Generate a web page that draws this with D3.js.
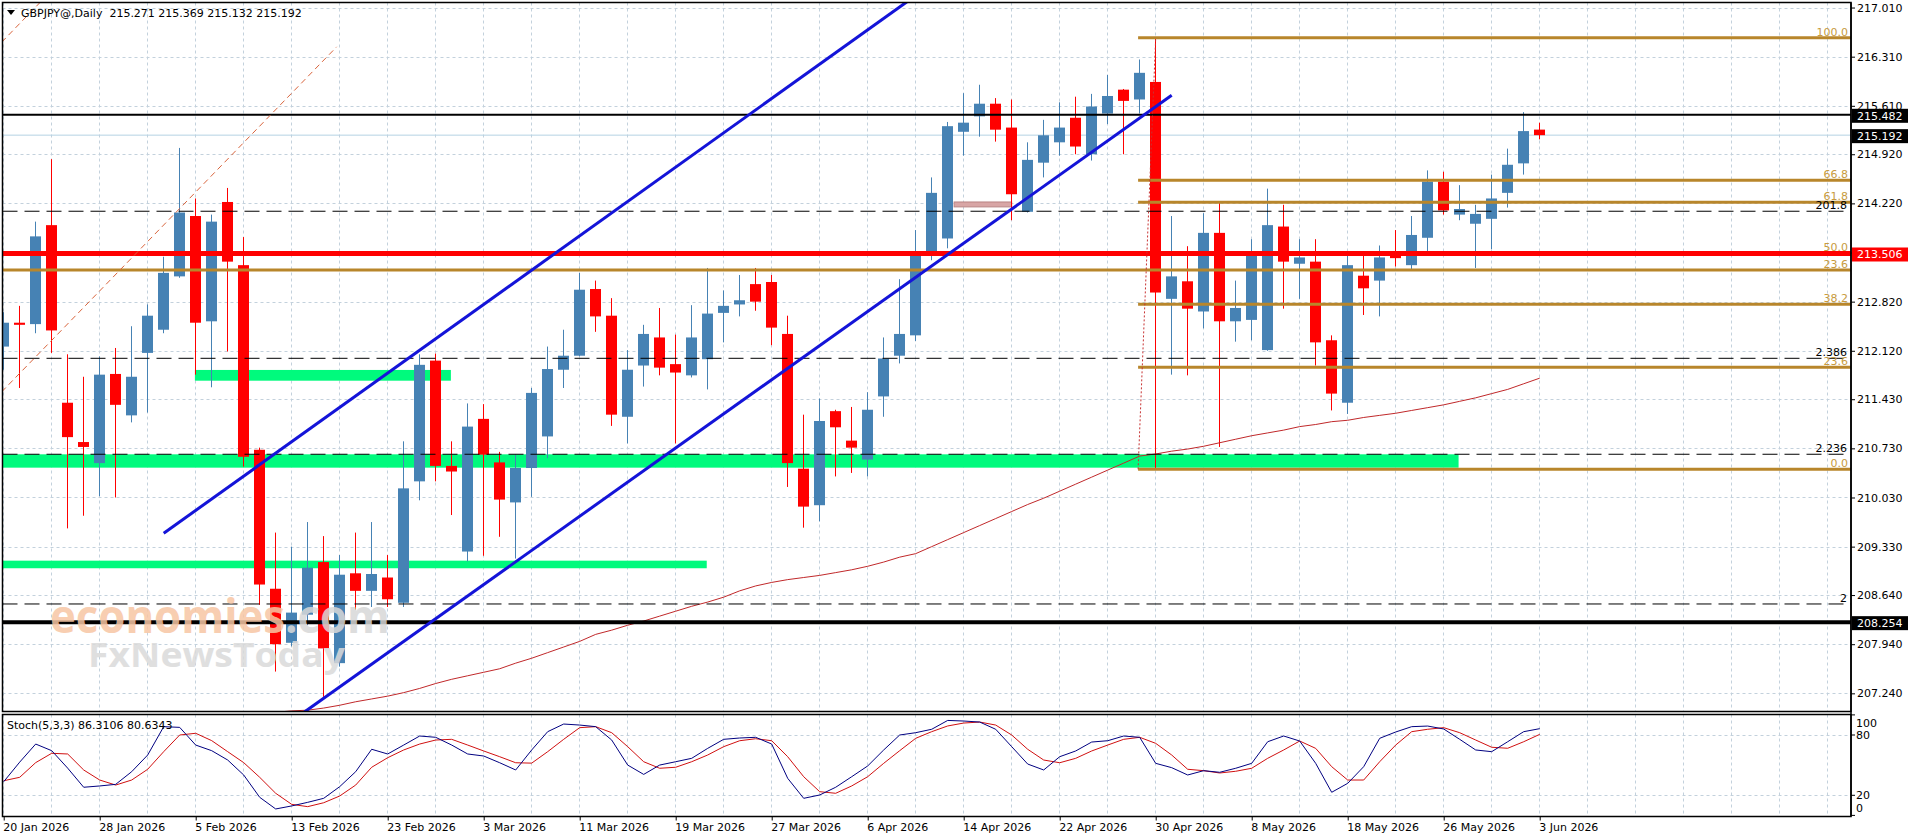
<!DOCTYPE html>
<html>
<head>
<meta charset="utf-8">
<script src="https://cdn.jsdelivr.net/npm/d3@7"></script>
<style>
  body { margin: 0; background: #fff; }
  svg { display: block; font-family: "DejaVu Sans", sans-serif; }
</style>
</head>
<body>
<svg id="chart" width="1916" height="840"></svg>
<script>
// ---- data ----
const symbolTitle = "GBPJPY@,Daily";
const lastQuote = [215.271, 215.369, 215.132, 215.192];

const opens = [212.18,212.52,212.50,213.91,211.38,210.82,210.52,211.79,211.20,212.09,
  212.42,213.18,214.04,212.54,214.24,213.34,210.71,208.73,207.96,208.36,
  209.11,207.67,208.95,208.70,208.89,208.53,210.26,211.98,210.48,209.26,
  211.15,210.53,209.96,210.45,210.90,211.85,212.05,213.00,212.62,211.18,
  211.91,212.31,211.93,211.77,212.00,212.66,212.78,213.07,213.10,212.36,
  210.44,209.92,211.26,210.84,210.57,211.47,212.05,212.34,213.54,213.72,
  215.24,215.46,215.64,215.30,214.10,214.80,215.09,215.44,214.92,215.50,
  215.84,215.70,215.95,212.86,213.11,212.68,213.80,212.54,212.56,212.13,
  213.89,213.36,213.39,212.27,211.38,213.19,213.12,213.51,213.34,213.73,
  214.53,214.06,213.93,214.00,214.37,214.79,215.271];
const highs = [212.67,212.76,213.96,214.85,212.07,211.75,212.04,212.16,212.47,212.78,
  213.46,215.01,214.29,214.06,214.44,213.74,210.74,209.53,209.33,209.68,
  209.48,209.21,209.53,209.68,209.21,210.83,212.07,212.08,210.83,211.37,
  211.36,210.68,210.64,211.59,212.18,212.42,213.23,213.12,212.87,212.13,
  212.49,212.73,212.35,212.77,213.30,212.98,213.20,213.30,213.20,212.62,
  211.21,211.44,211.28,211.32,211.53,212.31,213.14,213.84,214.59,215.38,
  215.79,215.91,215.72,215.70,215.09,215.41,215.66,215.74,215.78,216.05,
  215.85,216.27,216.58,214.04,213.61,214.08,214.24,213.12,213.71,214.43,
  214.20,213.71,213.71,212.34,213.49,213.49,213.62,213.84,214.04,214.69,
  214.67,214.48,214.20,214.63,215.00,215.52,215.369];
const lows = [211.85,211.59,212.37,212.09,209.59,209.77,210.05,210.03,211.10,211.24,
  212.37,213.16,211.78,211.60,212.11,210.47,208.50,207.55,207.91,208.21,
  207.19,207.62,208.43,208.47,208.47,208.47,209.99,210.26,209.78,209.12,
  209.20,209.47,209.16,210.04,210.59,211.59,212.04,212.39,211.05,210.80,
  211.61,211.77,210.80,211.74,211.57,212.24,212.61,212.69,212.20,210.18,
  209.60,209.69,210.33,210.38,210.33,211.18,211.94,212.26,213.41,213.58,
  214.90,215.17,215.10,213.98,214.09,214.59,214.90,214.92,214.83,215.35,
  214.92,215.50,210.43,211.78,211.77,212.44,210.75,212.25,212.27,212.12,
  212.72,212.86,211.91,211.27,211.22,212.63,212.61,213.32,213.28,213.53,
  214.06,213.98,213.30,213.57,214.16,214.63,215.132];
const closes = [212.52,212.49,213.75,212.41,210.89,210.75,211.78,211.35,211.75,212.62,
  213.23,214.09,212.52,213.96,213.39,210.61,208.79,207.94,208.39,209.03,
  207.88,208.93,208.70,208.94,208.58,210.16,211.92,210.48,210.40,211.04,
  210.64,210.00,210.45,211.52,211.86,212.05,212.99,212.61,211.21,211.85,
  212.36,211.88,211.81,212.31,212.65,212.76,212.84,212.82,212.45,210.52,
  209.90,211.12,211.03,210.74,211.28,212.01,212.36,213.49,214.37,215.32,
  215.37,215.64,215.27,214.35,214.84,215.19,215.30,215.03,215.60,215.75,
  215.68,216.08,212.95,213.18,212.72,213.80,212.54,212.73,213.49,213.91,
  213.39,213.45,212.24,211.51,213.34,213.01,213.45,213.44,213.77,214.53,
  214.12,214.14,214.07,214.29,214.77,215.25,215.192];

// moving average, first value belongs to bar 14
const maStart = 14;
const maValues = [206.94,206.95,206.97,206.97,206.99,207.00,207.03,207.07,207.12,207.16,
  207.20,207.25,207.31,207.38,207.44,207.49,207.54,207.59,207.67,207.74,
  207.82,207.90,207.98,208.08,208.14,208.21,208.27,208.34,208.41,208.48,
  208.54,208.61,208.70,208.77,208.82,208.86,208.89,208.92,208.96,209.00,
  209.05,209.11,209.18,209.23,209.33,209.43,209.53,209.63,209.73,209.83,
  209.93,210.02,210.12,210.22,210.32,210.42,210.52,210.62,210.65,210.69,
  210.72,210.76,210.81,210.86,210.91,210.95,210.99,211.04,211.07,211.11,
  211.13,211.17,211.20,211.23,211.27,211.31,211.35,211.40,211.45,211.51,
  211.57,211.65,211.73];

const stochK = [33.5,53,71,64.4,47,28,29.3,30.9,43.5,60.1,
  88.3,87.6,70,64.4,55.1,40.2,18,6.4,9.4,13,
  17,28.6,43.5,65.8,61.1,70,79,77.7,70,61.1,
  59.1,52.4,45.2,65.1,83.3,90.9,89.9,88.3,75,50.1,
  40.8,50.1,53.4,56.8,66.7,75.7,77,77.7,71,36.9,
  17,20.3,28,38.5,49.2,65.1,80,82.3,85.7,94.5,
  93.9,92.9,85.7,68.4,51.1,45.2,58.4,64.1,73,74.3,
  79,77.7,51.8,47.5,40.2,44.5,42.9,46.9,51.8,73.3,
  79,74,51.8,23,31.9,48.5,76.7,83,88.3,88.9,
  86,75.7,65.1,63.4,73.3,83.3,86.31];
const stochD = [34.5,37.9,52.5,61.8,61.1,45.2,35.2,30.2,35.2,45.9,
  63.4,80,81.7,74.4,63.4,52.5,37.9,22,11,8.7,
  12.6,19.3,30.2,47.9,57.4,65.1,71,75,75.7,70,
  64.1,58.4,52.4,52,63.4,75.7,87.3,88.3,82.3,68.4,
  53.4,46.9,47.9,53.4,60.1,68.4,74.3,76.3,74.3,58.4,
  38.5,23.6,22,29.3,38.5,51.8,64.4,76.7,83.3,89,
  91.9,92.9,89.9,80,65.8,55.1,52.4,56.8,64.1,70,
  75.7,77.7,71.7,60.1,45.9,44.5,42.2,43.9,46.9,56.8,
  65.1,74,66.7,48.5,35.2,35.2,53.4,70,83.3,85.7,
  87.3,82.3,75,67.8,66.8,73.3,80.63];
const stochTitle = "Stoch(5,3,3) 86.3106 80.6343";

// one date label every 6 bars
const dateLabels = ["20 Jan 2026","28 Jan 2026","5 Feb 2026","13 Feb 2026","23 Feb 2026",
  "3 Mar 2026","11 Mar 2026","19 Mar 2026","27 Mar 2026","6 Apr 2026","14 Apr 2026",
  "22 Apr 2026","30 Apr 2026","8 May 2026","18 May 2026","26 May 2026","3 Jun 2026"];
const priceTicks = [217.010,216.310,215.610,214.920,214.220,213.520,212.820,212.120,
  211.430,210.730,210.030,209.330,208.640,207.940,207.240];
const stochTicks = [100, 80, 20, 0];

// drawn objects
const bidPrice = 215.192;
const upperLevel = 215.482;
const keyLevel = 213.506;
const lowerLevel = 208.254;
const dashedLevels = [214.108, 212.013, 210.646, 208.513];
const dashedLabels = ["201.8", "2.386", "2.236", "2"];
const fibStartBar = 70.9;
const fibLevels = [216.581, 214.549, 214.236, 213.509, 212.783, 211.885, 210.432];
const fibLabels = ["100.0", "66.8", "61.8", "50.0", "38.2", "23.6", "0.0"];
const oldFibLevel = 213.271, oldFibLabel = "23.6";
const greenZones = [
  {from: -2, to: 90.93, top: 210.645, bottom: 210.455},
  {from: 11.95, to: 27.95, top: 211.847, bottom: 211.694},
  {from: -2, to: 43.94, top: 209.130, bottom: 209.022}
];
const pinkZone = {from: 59.4, to: 63, top: 214.24, bottom: 214.17};
const channelUpper = [[10, 209.52], [56.5, 217.10]];
const channelLower = [[18.77, 206.97], [73, 215.76]];
const oldChannelA = [[-1, 211.33], [20.81, 216.45]];
const oldChannelB = [[-1, 216.31], [2.6, 217.16]];
const fibBase = [[fibStartBar, 210.432], [72, 216.581]];

// ---- layout ----
const axisX = 1851;
const mainTop = 2.5, mainBottom = 711.5, leftX = 2.5;
const stTop = 714.5, stBottom = 816.5;

const x = d3.scaleLinear([0, 96], [3.7, 1539.7]);
const y = d3.scaleLinear([206.974, 217.089], [712, 2]);
const ys = d3.scaleLinear([0, 100], [815.4, 714.9]);

const bull = "#4682B4", bear = "#FF0000";
const gridColor = "#C3D1DC";
const gold = "#B8862B";
const fmt = d3.format(".3f");

const svg = d3.select("#chart");
svg.append("rect").attr("width", 1916).attr("height", 840).attr("fill", "#fff");

const defs = svg.append("defs");
defs.append("clipPath").attr("id", "mainClip")
  .append("rect").attr("x", leftX).attr("y", mainTop)
  .attr("width", axisX - leftX).attr("height", mainBottom - mainTop);
defs.append("clipPath").attr("id", "stClip")
  .append("rect").attr("x", leftX).attr("y", stTop)
  .attr("width", axisX - leftX).attr("height", stBottom - stTop);

// grid
const gridBars = d3.range(0, 115, 3);
const grid = svg.append("g").attr("stroke", gridColor).attr("stroke-dasharray", "3,3").attr("stroke-width", 1);
gridBars.forEach(b => {
  const gx = Math.floor(x(b)) + 0.5;
  grid.append("line").attr("x1", gx).attr("x2", gx).attr("y1", mainTop).attr("y2", mainBottom);
  grid.append("line").attr("x1", gx).attr("x2", gx).attr("y1", stTop).attr("y2", stBottom);
});
priceTicks.forEach(p => {
  const gy = Math.round(y(p)) + 0.5;
  grid.append("line").attr("x1", leftX).attr("x2", axisX).attr("y1", gy).attr("y2", gy);
});
[80, 20].forEach(v => {
  const gy = Math.round(ys(v)) + 0.5;
  grid.append("line").attr("x1", leftX).attr("x2", axisX).attr("y1", gy).attr("y2", gy);
});

const main = svg.append("g").attr("clip-path", "url(#mainClip)");

// background rectangles
main.selectAll(".zone")
  .data(greenZones)
  .enter()
  .append("rect")
  .attr("class", "zone")
  .attr("x", d => x(d.from))
  .attr("width", d => x(d.to) - x(d.from))
  .attr("y", d => y(d.top))
  .attr("height", d => y(d.bottom) - y(d.top))
  .attr("fill", "#00FA7D");

main.append("rect")
  .attr("x", x(pinkZone.from)).attr("width", x(pinkZone.to) - x(pinkZone.from))
  .attr("y", y(pinkZone.top)).attr("height", y(pinkZone.bottom) - y(pinkZone.top))
  .attr("fill", "#D8A6A6").attr("stroke", "#B98585").attr("stroke-width", 1);

// bid line
main.append("line")
  .attr("x1", leftX).attr("x2", axisX)
  .attr("y1", y(bidPrice)).attr("y2", y(bidPrice))
  .attr("stroke", "#B4D2E4").attr("stroke-width", 1);

// candles
const candles = d3.range(opens.length).map(i => ({
  i, o: opens[i], h: highs[i], l: lows[i], c: closes[i]
}));

const cg = main.selectAll(".candle")
  .data(candles)
  .enter()
  .append("g")
  .attr("class", "candle");

cg.append("line")
  .attr("x1", d => Math.floor(x(d.i)) + 0.5)
  .attr("x2", d => Math.floor(x(d.i)) + 0.5)
  .attr("y1", d => y(d.h))
  .attr("y2", d => y(d.l))
  .attr("stroke", d => d.c >= d.o ? bull : bear)
  .attr("stroke-width", 1);

cg.append("rect")
  .attr("x", d => Math.floor(x(d.i)) - 5)
  .attr("width", 11)
  .attr("y", d => y(Math.max(d.o, d.c)))
  .attr("height", d => Math.max(1.5, Math.abs(y(d.o) - y(d.c))))
  .attr("fill", d => d.c >= d.o ? bull : bear);

// moving average
const maLine = d3.line()
  .x((d, k) => x(maStart + k))
  .y(d => y(d));
main.append("path")
  .datum(maValues)
  .attr("d", maLine)
  .attr("fill", "none")
  .attr("stroke", "#C0282A")
  .attr("stroke-width", 1);

// horizontal levels
function hLine(price, color, width, x0, dash) {
  main.append("line")
    .attr("x1", x0).attr("x2", axisX)
    .attr("y1", y(price)).attr("y2", y(price))
    .attr("stroke", color)
    .attr("stroke-width", width)
    .attr("stroke-dasharray", dash || null);
}

dashedLevels.forEach(p => hLine(p, "#000", 1, leftX, "15,7"));
hLine(oldFibLevel, gold, 3, leftX);
fibLevels.forEach(p => hLine(p, gold, 3, x(fibStartBar)));
hLine(keyLevel, "#FF0000", 5, leftX);
hLine(upperLevel, "#000", 2, leftX);
hLine(lowerLevel, "#000", 4, leftX);

// trend lines
const seg = d3.line().x(d => x(d[0])).y(d => y(d[1]));
[oldChannelA, oldChannelB].forEach(s => {
  main.append("path").datum(s).attr("d", seg)
    .attr("fill", "none").attr("stroke", "#D8643C")
    .attr("stroke-width", 1).attr("stroke-dasharray", "6,4");
});
main.append("path").datum(fibBase).attr("d", seg)
  .attr("fill", "none").attr("stroke", "#C83232")
  .attr("stroke-width", 1).attr("stroke-dasharray", "2,2");
[channelUpper, channelLower].forEach(s => {
  main.append("path").datum(s).attr("d", seg)
    .attr("fill", "none").attr("stroke", "#1414D8")
    .attr("stroke-width", 3);
});

// watermark
const wm = main.append("g").attr("opacity", 0.85)
  .attr("font-family", "'Open Sans', sans-serif").attr("font-weight", 700);
const wm1 = wm.append("text").attr("x", 50).attr("y", 633)
  .attr("font-size", 46).attr("textLength", 340).attr("lengthAdjust", "spacingAndGlyphs");
wm1.append("tspan").attr("fill", "#F7C6A4").text("economies");
wm1.append("tspan").attr("fill", "#D8D8D8").text(".com");
wm.append("text").attr("x", 88).attr("y", 667)
  .attr("font-size", 34).attr("textLength", 257).attr("lengthAdjust", "spacingAndGlyphs")
  .attr("fill", "#DADADA").text("FxNewsToday");

// stochastic
const st = svg.append("g").attr("clip-path", "url(#stClip)");
const stLine = d3.line().x((d, k) => x(k)).y(d => ys(d));
st.append("path").datum(stochD).attr("d", stLine)
  .attr("fill", "none").attr("stroke", "#D01010").attr("stroke-width", 1);
st.append("path").datum(stochK).attr("d", stLine)
  .attr("fill", "none").attr("stroke", "#000080").attr("stroke-width", 1);

// panel frames
svg.append("rect").attr("x", leftX).attr("y", mainTop)
  .attr("width", axisX - leftX).attr("height", mainBottom - mainTop)
  .attr("fill", "none").attr("stroke", "#000").attr("stroke-width", 1.5);
svg.append("rect").attr("x", leftX).attr("y", stTop)
  .attr("width", axisX - leftX).attr("height", stBottom - stTop)
  .attr("fill", "none").attr("stroke", "#000").attr("stroke-width", 1.5);

// labels
const lab = svg.append("g").attr("font-size", 11).attr("fill", "#000");

lab.append("path").attr("d", "M7,10 L15,10 L11,15 Z").attr("fill", "#000");
lab.append("text").attr("x", 21).attr("y", 17)
  .attr("xml:space", "preserve")
  .text(symbolTitle + "  " + lastQuote.map(fmt).join(" "));

lab.append("text").attr("x", 7).attr("y", 729).text(stochTitle);

// fib labels
fibLevels.forEach((p, k) => {
  lab.append("text").attr("x", 1848).attr("y", y(p) - 2)
    .attr("text-anchor", "end").attr("fill", "#C89B40").text(fibLabels[k]);
});
lab.append("text").attr("x", 1848).attr("y", y(oldFibLevel) - 2)
  .attr("text-anchor", "end").attr("fill", "#C89B40").text(oldFibLabel);
dashedLevels.forEach((p, k) => {
  lab.append("text").attr("x", 1847).attr("y", y(p) - 2)
    .attr("text-anchor", "end").attr("fill", "#000").text(dashedLabels[k]);
});

// price axis
const yAxis = d3.axisRight(y).tickValues(priceTicks).tickFormat(fmt).tickSize(4).tickPadding(2);
const ya = svg.append("g").attr("transform", `translate(${axisX},0)`).call(yAxis);
ya.select(".domain").remove();
ya.selectAll("text").attr("font-size", 11).attr("font-family", "'DejaVu Sans', sans-serif").attr("fill", "#000");
ya.selectAll("line").attr("stroke", "#000");

// price boxes, drawn over the tick labels
const boxG = svg.append("g").attr("font-size", 11);
const boxes = [
  {p: upperLevel, fill: "#000"},
  {p: bidPrice, fill: "#000"},
  {p: keyLevel, fill: "#FF0000"},
  {p: lowerLevel, fill: "#000"}
];
boxes.forEach(b => {
  const cy = y(b.p) + 1;
  boxG.append("rect").attr("x", axisX + 1).attr("y", cy - 7)
    .attr("width", 56).attr("height", 14).attr("fill", b.fill);
  boxG.append("text").attr("x", axisX + 6).attr("y", cy).attr("dy", "0.36em")
    .attr("fill", "#fff").text(fmt(b.p));
});

// axis line over both panels
svg.append("line").attr("x1", axisX).attr("x2", axisX)
  .attr("y1", mainTop).attr("y2", stBottom)
  .attr("stroke", "#000").attr("stroke-width", 1.5);

// stochastic axis
stochTicks.forEach(v => {
  const ty = Math.min(Math.max(ys(v), 723), 808);
  lab.append("line").attr("x1", axisX).attr("x2", axisX + 4)
    .attr("y1", ys(v)).attr("y2", ys(v)).attr("stroke", "#000");
  lab.append("text").attr("x", axisX + 5).attr("y", ty).attr("dy", "0.36em").text(v);
});

// date axis
const dateBars = dateLabels.map((d, k) => k * 6);
const xAxis = d3.axisBottom(x).tickValues(dateBars)
  .tickFormat((d, k) => dateLabels[k]).tickSize(4).tickPadding(3);
const xa = svg.append("g").attr("transform", `translate(0,${stBottom})`).call(xAxis);
xa.select(".domain").remove();
xa.selectAll("text").attr("font-size", 11).attr("font-family", "'DejaVu Sans', sans-serif")
  .attr("fill", "#000").attr("text-anchor", "start").attr("x", -1);
xa.selectAll("line").attr("stroke", "#000");
</script>
</body>
</html>
